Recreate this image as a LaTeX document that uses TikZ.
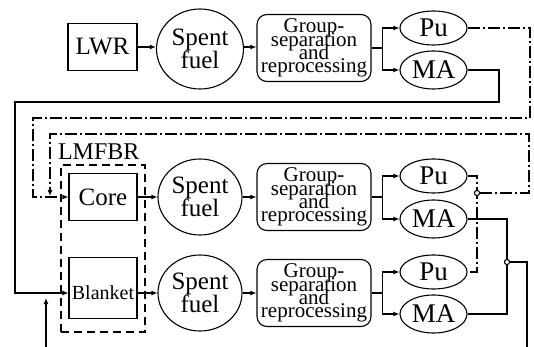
\documentclass[tikz,border=0pt]{standalone}
\usepackage{fontspec}
\setmainfont{Liberation Serif}
\usetikzlibrary{arrows.meta,shapes.geometric}
\newcommand\gbfont{\fontsize{21}{13.2}\selectfont\lineskiplimit=-30pt\relax\lineskip=0pt\relax}
\begin{document}
\begin{tikzpicture}[x=1pt,y=-1pt,line width=1.1pt,
  arr/.style={-{Latex[length=6pt,width=5pt]}},
  dd/.style={dash pattern=on 12pt off 3pt on 2pt off 3pt},
  sq/.style={draw,rectangle,inner sep=0pt,font=\fontsize{25}{25}\selectfont},
  sf/.style={draw,ellipse,inner sep=0pt,minimum width=84pt,minimum height=76pt,align=center,font=\fontsize{25}{23}\selectfont},
  gb/.style={draw,rectangle,rounded corners=10pt,inner sep=0pt,minimum width=114pt,minimum height=67pt,align=center,font=\gbfont},
  pm/.style={draw,ellipse,inner sep=0pt,minimum width=67pt,minimum height=34pt,font=\fontsize{27}{27}\selectfont},
  jn/.style={draw,circle,fill=white,inner sep=0pt,minimum size=5pt,line width=0.9pt},
]
\useasboundingbox (0,0) rectangle (534,347);
% top row
\node[sq,minimum width=69pt,minimum height=47pt] (lwr) at (102.5,47) {LWR};
\node[sf,minimum width=87pt,minimum height=80pt] (sf1) at (200,49) {Spent\\fuel};
\node[gb] (g1) at (314,48) {Group-\\separation\\and\\reprocessing};
\node[pm] (pu1) at (433.5,28) {Pu};
\node[pm,minimum height=38pt] (ma1) at (433.5,70) {MA};
% LMFBR
\node[draw,dash pattern=on 8pt off 5pt,minimum width=84pt,minimum height=167pt,inner sep=0pt] (lm) at (103,248.5) {};
\node[anchor=south west,inner sep=0pt,font=\fontsize{24}{24}\selectfont] (lml) at ([xshift=-3pt,yshift=4pt]lm.north west) {LMFBR};
% core row
\node[sq,minimum width=68pt,minimum height=47pt] (core) at (103,197) {Core};
\node[sf] (sf2) at (200,197) {Spent\\fuel};
\node[gb] (g2) at (314,197) {Group-\\separation\\and\\reprocessing};
\node[pm] (pu2) at (433.5,176) {Pu};
\node[pm,minimum height=38pt] (ma2) at (433.5,219) {MA};
% blanket row
\node[draw,rectangle,inner sep=0pt,minimum width=68pt,minimum height=61pt] (bl) at (103,288) {};
\node[inner sep=0pt,font=\fontsize{20}{20}\selectfont] (blt) at (103,293) {Blanket};
\node[sf] (sf3) at (200,293) {Spent\\fuel};
\node[gb] (g3) at (314,293) {Group-\\separation\\and\\reprocessing};
\node[pm] (pu3) at (433.5,272) {Pu};
\node[pm,minimum height=38pt] (ma3) at (433.5,314) {MA};
% junctions
\node[jn] (j1) at (477,193) {};
\node[jn] (j2) at (507,262) {};
% free ends
\coordinate (out) at (527,347);
\coordinate (inb) at (46,347);
\coordinate (int) at (46,298);
% main flow
\draw[arr] (lwr.east) -- (lwr.east -| sf1.west);
\draw[arr] (sf1.east |- lwr.east) -- (g1.west |- lwr.east);
\draw[arr] (core) -- (sf2);
\draw[arr] (sf2) -- (g2);
\draw[arr] (bl.east |- sf3) -- (sf3);
\draw[arr] (sf3) -- (g3);
% splits
\foreach \g/\p/\m in {g1/pu1/ma1,g2/pu2/ma2,g3/pu3/ma3}{
  \draw[arr] (\g.east) -- ++(11,0) |- (\p.west);
  \draw[arr] (\g.east) -- ++(11,0) |- (\m.west);
}
% recycle loops
\draw[dd,arr] (pu1.east) -- (530,28) -- (530,118) -- (33,118) -- (33,197) -- (core.west);
\draw[arr] (ma1.east) -- (499,70) -- (499,102) -- (15,102) -- (15,293) -- (bl.west |- sf3);
\draw[dd] (pu2.east) -- (477,176) -- (477,272) -- (pu3.east);
\draw[dd,arr] (j1.east) -- (529,193) -- (529,134) -- (50,134) -- (50,196);
\draw (ma2.east) -- (507,219) -- (507,314) -- (ma3.east);
\draw (j2.east) -- (527,262) -- (out);
\draw[arr] (inb) -- (int);
\node[jn] at (j1) {};
\node[jn] at (j2) {};
\end{tikzpicture}
\end{document}
